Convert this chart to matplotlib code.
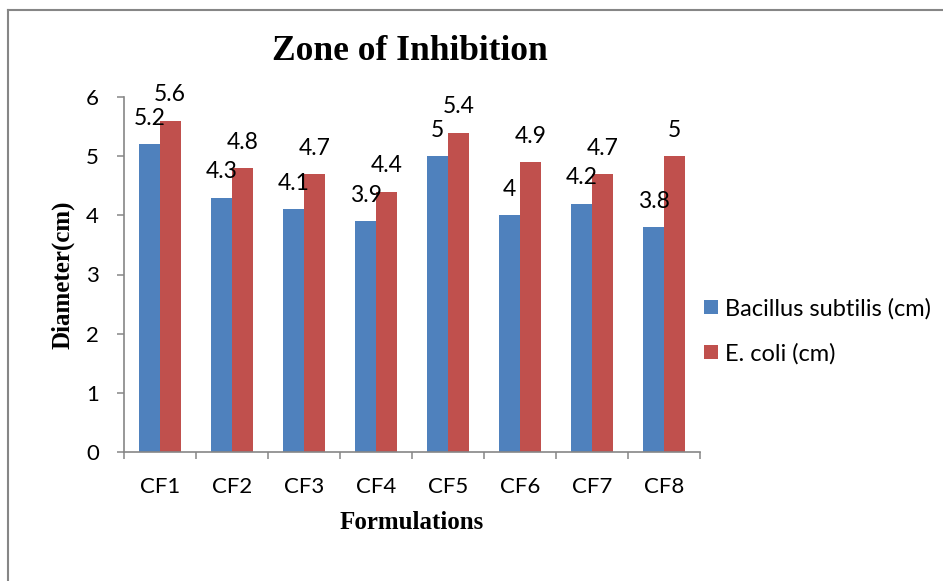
import matplotlib
matplotlib.use("Agg")
import matplotlib.pyplot as plt
from matplotlib.lines import Line2D
import numpy as np

# zone of inhibition per formulation, cm
formulations = ["CF1", "CF2", "CF3", "CF4", "CF5", "CF6", "CF7", "CF8"]
bacillus = [5.2, 4.3, 4.1, 3.9, 5.0, 4.0, 4.2, 3.8]
ecoli = [5.6, 4.8, 4.7, 4.4, 5.4, 4.9, 4.7, 5.0]
series_names = ["Bacillus subtilis (cm)", "E. coli (cm)"]
yticks = [0, 1, 2, 3, 4, 5, 6]

BLUE = "#4F81BD"
RED = "#C0504D"
GREY = "#868686"
SANS = ["Lato", "DejaVu Sans"]
SERIF = "Liberation Serif"
FS = 16

fig = plt.figure(figsize=(9.43, 5.81), dpi=100)
ax = fig.add_axes([124 / 943, 1 - 452 / 581, 576 / 943, 355 / 581])

x = np.arange(len(formulations))
w = 0.285
b1 = ax.bar(x - w / 2, bacillus, w, color=BLUE, label=series_names[0])
b2 = ax.bar(x + w / 2, ecoli, w, color=RED, label=series_names[1])
for bars in (b1, b2):
    ax.bar_label(bars, labels=[f"{v:g}" for v in bars.datavalues], padding=11,
                 fontsize=FS + 0.5, family=SANS)

ax.set_xlim(-0.5, len(formulations) - 0.5)
ax.set_ylim(0, 6)
ax.set_yticks(yticks)
ax.set_yticklabels([str(t) for t in yticks], family=SANS, fontsize=FS)
ax.set_xticks(x)
ax.set_xticklabels(formulations, family=SANS, fontsize=FS)
ax.set_xticks(np.arange(len(formulations) + 1) - 0.5, minor=True)
ax.tick_params(axis="x", which="major", length=0, pad=18)
ax.tick_params(axis="x", which="minor", length=5, width=1.1, color=GREY, direction="out")
ax.tick_params(axis="y", length=5, width=1.1, color=GREY, direction="out", pad=13)

for s in ("top", "right"):
    ax.spines[s].set_visible(False)
for s in ("left", "bottom"):
    ax.spines[s].set_color(GREY)
    ax.spines[s].set_linewidth(1.2)

ax.set_xlabel("Formulations", family=SERIF, fontweight="bold", fontsize=18, labelpad=10)
ax.set_ylabel("Diameter(cm)", family=SERIF, fontweight="bold", fontsize=18, labelpad=8)
fig.text(410 / 943, 1 - 52 / 581, "Zone of Inhibition", family=SERIF,
         fontweight="bold", fontsize=25.5, ha="center", va="center")

fig.legend(handles=[b1, b2], loc="center left", bbox_to_anchor=(704 / 943, 1 - 331 / 581),
           frameon=False, prop={"family": SANS, "size": 17},
           handlelength=0.58, handleheight=0.58, handletextpad=0.3, labelspacing=1.0,
           borderpad=0, borderaxespad=0)

# chart frame
fig.add_artist(Line2D([8 / 943, 1], [1 - 10 / 581] * 2, color=GREY, lw=1.5))
fig.add_artist(Line2D([8 / 943] * 2, [0, 1 - 10 / 581], color=GREY, lw=1.5))

fig.savefig("out.png", dpi=100)
